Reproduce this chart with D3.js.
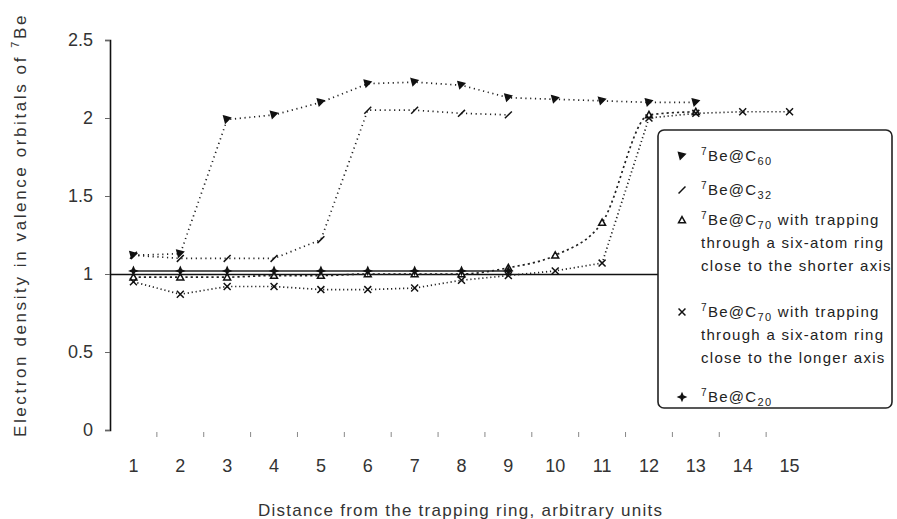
<!DOCTYPE html>
<html><head><meta charset="utf-8">
<script src="https://cdn.jsdelivr.net/npm/d3@7"></script>
<style>
body{margin:0;background:#fff}
svg{display:block}
text{font-family:"Liberation Sans",Arial,sans-serif}
</style>
</head><body>
<svg id="c" width="897" height="519"></svg>
<script>
// ---------- data ----------
const categories = [1,2,3,4,5,6,7,8,9,10,11,12,13,14,15];
const yTickValues = [0, 0.5, 1, 1.5, 2, 2.5];
const yTickLabels = ["0", "0.5", "1", "1.5", "2", "2.5"];
const xTickLabels = ["1","2","3","4","5","6","7","8","9","10","11","12","13","14","15"];

const beC60       = [1.12, 1.13, 1.99, 2.02, 2.10, 2.22, 2.23, 2.21, 2.13, 2.12, 2.11, 2.10, 2.10];
const beC32       = [1.12, 1.10, 1.10, 1.10, 1.22, 2.05, 2.05, 2.03, 2.02];
const beC70short  = [0.98, 0.98, 0.98, 0.99, 0.99, 1.00, 1.00, 1.00, 1.04, 1.12, 1.33, 2.02, 2.04];
const beC70long   = [0.95, 0.87, 0.92, 0.92, 0.90, 0.90, 0.91, 0.96, 0.99, 1.02, 1.07, 2.00, 2.03, 2.04, 2.04];
const beC20       = [1.02, 1.02, 1.02, 1.02, 1.02, 1.02, 1.02, 1.02, 1.02];

const legendLines = [
  [["7","Be@C","60",""]],
  [["7","Be@C","32",""]],
  [["7","Be@C","70"," with trapping"],[null,"through a six-atom ring"],[null,"close to the shorter axis"]],
  [["7","Be@C","70"," with trapping"],[null,"through a six-atom ring"],[null,"close to the longer axis"]],
  [["7","Be@C","20",""]]
];

// ---------- custom marker shapes ----------
const symArrow = {draw(ctx, s){ const r=Math.sqrt(s)/2;
  ctx.moveTo(-r,-r); ctx.lineTo(r*0.9,-r*0.5); ctx.lineTo(-r*0.5,r*0.9); ctx.closePath(); }};
const symSlash = {draw(ctx, s){ const r=Math.sqrt(s)/2;
  ctx.moveTo(-r,r); ctx.lineTo(r,-r); }};
const symTri = {draw(ctx, s){ const r=Math.sqrt(s)/2;
  ctx.moveTo(0,-r); ctx.lineTo(r,r*0.8); ctx.lineTo(-r,r*0.8); ctx.closePath(); }};
const symX = {draw(ctx, s){ const r=Math.sqrt(s)/2;
  ctx.moveTo(-r,-r); ctx.lineTo(r,r); ctx.moveTo(r,-r); ctx.lineTo(-r,r); }};
const symSpark = {draw(ctx, s){ const r=Math.sqrt(s)/2, q=r*0.3;
  ctx.moveTo(0,-r); ctx.lineTo(q,-q); ctx.lineTo(r,0); ctx.lineTo(q,q);
  ctx.lineTo(0,r); ctx.lineTo(-q,q); ctx.lineTo(-r,0); ctx.lineTo(-q,-q); ctx.closePath(); }};

const series = [
  {values: beC60,      sym: symArrow, fill:"#111", stroke:"#111", dash:"1.2,3.6", curve: d3.curveLinear},
  {values: beC32,      sym: symSlash, fill:"none", stroke:"#111", dash:"1.2,3.6", curve: d3.curveLinear},
  {values: beC70short, sym: symTri,   fill:"#fff", stroke:"#111", dash:"2.2,3",   curve: d3.curveMonotoneX},
  {values: beC70long,  sym: symX,     fill:"none", stroke:"#111", dash:"1.2,2.8", curve: d3.curveLinear},
  {values: beC20,      sym: symSpark, fill:"#111", stroke:"#111", dash:null,      curve: d3.curveLinear}
];

// ---------- layout ----------
const svg = d3.select("#c");
const x = d3.scaleBand().domain(categories).range([110, 813]);
const y = d3.scaleLinear().domain([0, 2.5]).range([430, 40]);
const cx = d => x(d) + x.bandwidth()/2;

// y axis
const yAxis = d3.axisLeft(y).tickValues(yTickValues).tickFormat((d,i)=>yTickLabels[i]).tickSize(5).tickPadding(12);
const gy = svg.append("g").attr("transform","translate(110,0)").call(yAxis);
gy.select(".domain").attr("stroke","#111").attr("stroke-width",1.6);
gy.selectAll(".tick line").attr("stroke","#666");
gy.selectAll(".tick text").attr("font-size",18).attr("fill","#333").attr("font-family","Liberation Sans, Arial, sans-serif");

// x axis crossing at y=1, labels low
const xAxisLine = d3.axisBottom(x).tickValues([]).tickSizeOuter(0);
const gx = svg.append("g").attr("transform",`translate(0,${y(1)})`).call(xAxisLine);
gx.select(".domain").attr("stroke","#111").attr("stroke-width",1.6);

const xLab = d3.axisBottom(x).tickFormat((d,i)=>xTickLabels[i]).tickSize(0).tickPadding(0);
const gl = svg.append("g").attr("transform","translate(0,459)").call(xLab);
gl.select(".domain").remove();
gl.selectAll(".tick text").attr("font-size",18).attr("fill","#333").attr("font-family","Liberation Sans, Arial, sans-serif");

// faint low tick marks at category boundaries
svg.append("g").selectAll("line").data(categories.slice(1)).join("line")
  .attr("x1",d=>x(d)).attr("x2",d=>x(d)).attr("y1",432).attr("y2",437)
  .attr("stroke","#888").attr("stroke-width",1);

// series lines and markers
series.forEach(s=>{
  const pts = s.values.map((v,i)=>[cx(categories[i]), y(v)]);
  svg.append("path").datum(pts)
    .attr("d", d3.line().curve(s.curve))
    .attr("fill","none").attr("stroke","#222").attr("stroke-width", s.dash?1.7:1.5)
    .attr("stroke-dasharray", s.dash).attr("stroke-linecap","butt");
  svg.append("g").selectAll("path").data(pts).join("path")
    .attr("transform",d=>`translate(${d[0]},${d[1]})`)
    .attr("d", d3.symbol().type(s.sym).size(48))
    .attr("fill", s.fill).attr("stroke", s.stroke).attr("stroke-width",1.5);
});

// legend
const lg = svg.append("g");
lg.append("rect").attr("x",658).attr("y",130).attr("width",234).attr("height",278)
  .attr("rx",6).attr("fill","#fff").attr("stroke","#222").attr("stroke-width",1.6);
const rowY = [[156],[190],[220,243,266],[312,335,358],[397]];
legendLines.forEach((lines,r)=>{
  const s = series[r];
  lg.append("path").attr("transform",`translate(682,${rowY[r][0]})`)
    .attr("d", d3.symbol().type(s.sym).size(48))
    .attr("fill", s.fill).attr("stroke", s.stroke).attr("stroke-width",1.5);
  lines.forEach((ln,j)=>{
    const t = lg.append("text").attr("x",701).attr("y",rowY[r][j]+5)
      .attr("font-size",15).attr("fill","#222").attr("letter-spacing",1.3);
    if (ln[0]===null) { t.text(ln[1]); }
    else {
      t.append("tspan").attr("font-size",10).attr("dy",-6).text(ln[0]);
      t.append("tspan").attr("dy",6).text(ln[1]);
      t.append("tspan").attr("font-size",11).attr("dy",4).text(ln[2]);
      if (ln[3]) t.append("tspan").attr("dy",-4).text(ln[3]);
    }
  });
});

// axis titles
svg.append("text").attr("x",460).attr("y",516).attr("text-anchor","middle")
  .attr("font-size",17).attr("fill","#333")
  .attr("textLength",404).attr("lengthAdjust","spacing")
  .text("Distance from the trapping ring, arbitrary units");

const yt = svg.append("text").attr("transform","translate(26,225) rotate(-90)")
  .attr("text-anchor","middle").attr("font-size",17).attr("fill","#333")
  .attr("letter-spacing",2.6);
yt.append("tspan").text("Electron density in valence orbitals of ");
yt.append("tspan").attr("font-size",11).attr("dy",-7).text("7");
yt.append("tspan").attr("dy",7).text("Be");
</script>
</body></html>
